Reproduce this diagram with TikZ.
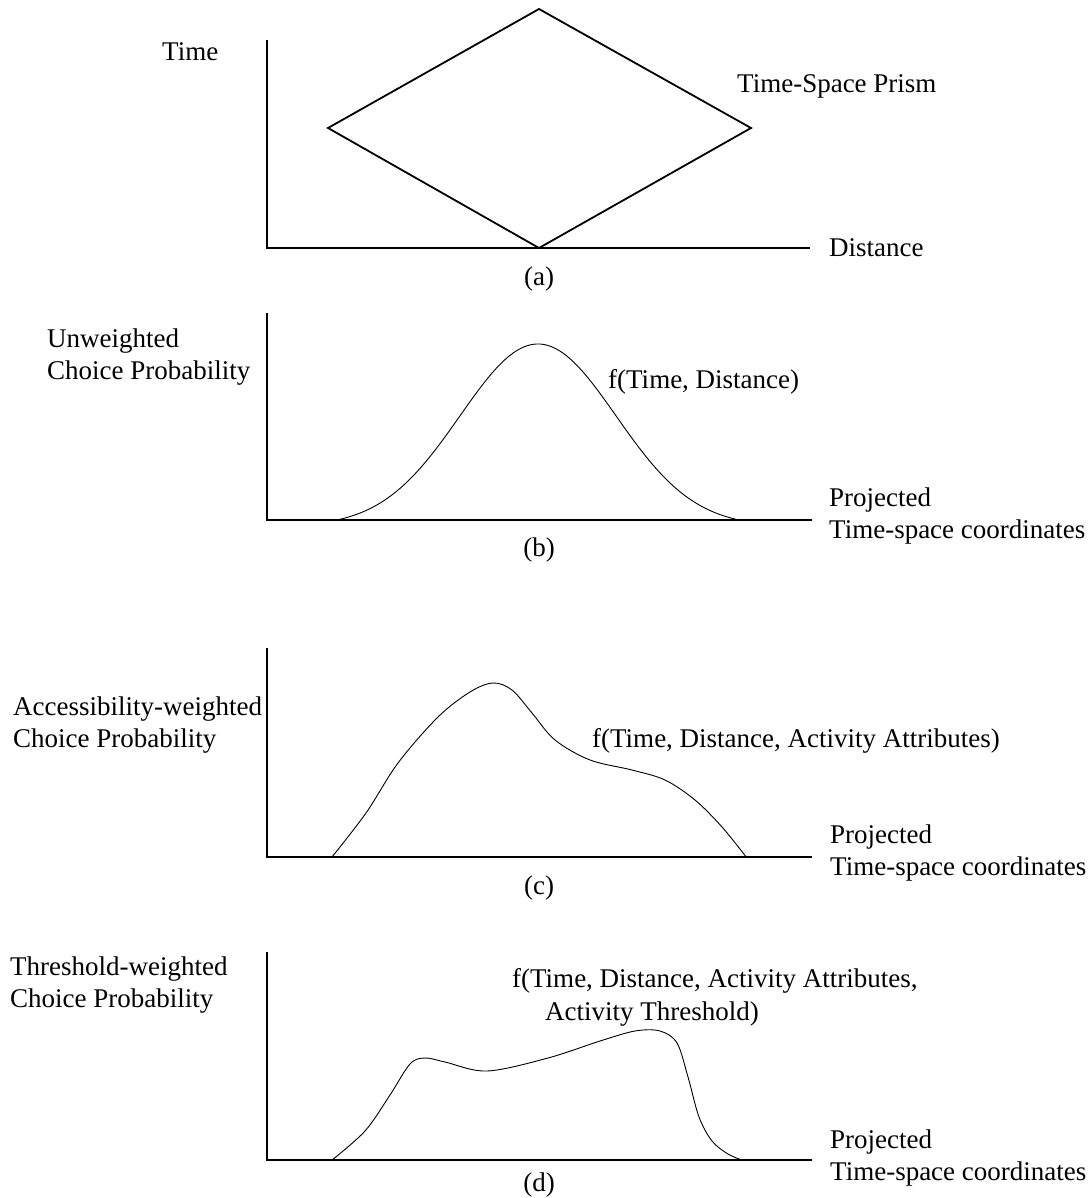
\documentclass[tikz,border=0pt]{standalone}
\usepackage{fontspec}
\setmainfont{Liberation Serif}
\begin{document}
\begin{tikzpicture}[x=1pt,y=-1pt,
  axisline/.style={line width=1.8pt},
  curveline/.style={line width=0.9pt},
  lbl/.style={anchor=base west,inner sep=0pt,font=\fontsize{27}{32}\selectfont},
  captext/.style={anchor=base,inner sep=0pt,font=\fontsize{27}{32}\selectfont}]
\useasboundingbox (0,0) rectangle (1091,1198);

% ---- (a) time-space prism ----
\draw[axisline] (267,40) -- (267,248) -- (810,248);
\draw[axisline,line join=miter] (539,9) -- (751,128) -- (539,248) -- (328,128) -- cycle;
\node[lbl] (ta) at (162,61) {Time};
\node[lbl] (prism) at (737,93) {Time-Space Prism};
\node[lbl] (da) at (829,256) {Distance};
\node[captext] (capa) at (539,285) {(a)};

% ---- (b) unweighted: bell-shaped curve ----
\draw[axisline] (267,313) -- (267,520) -- (812,520);
\draw[curveline] plot[domain=337:740,samples=120,smooth]
  (\x,{520-176*(exp(-0.5*((\x-538)/78)^2)-0.036)/0.964});
\node[lbl] (yb1) at (47,347) {Unweighted};
\node[lbl] (yb2) at (47,379) {Choice Probability};
\node[lbl] (fb) at (608,388) {f(Time, Distance)};
\node[lbl] (xb1) at (829,506) {Projected};
\node[lbl] (xb2) at (829,538) {Time-space coordinates};
\node[captext] (capb) at (539,556) {(b)};

% ---- (c) accessibility-weighted ----
\draw[axisline] (267,648) -- (267,857) -- (812,857);
\draw[curveline] plot[smooth,tension=0.55] coordinates {
  (332,857) (366,813) (398,763) (438,717) (470,692) (493,683) (512,690)
  (532,713) (555,740) (590,760) (632,770) (665,780) (695,800) (722,827)
  (747,858)};
\node[lbl] (yc1) at (13,715) {Accessibility-weighted};
\node[lbl] (yc2) at (13,747) {Choice Probability};
\node[lbl] (fc) at (592,747) {f(Time, Distance, Activity Attributes)};
\node[lbl] (xc1) at (830,843) {Projected};
\node[lbl] (xc2) at (830,875) {Time-space coordinates};
\node[captext] (capc) at (539,894) {(c)};

% ---- (d) threshold-weighted ----
\draw[axisline] (267,952) -- (267,1160) -- (812,1160);
\draw[curveline] plot[smooth,tension=0.55] coordinates {
  (332,1160) (365,1131) (390,1095) (410,1064) (425,1058) (445,1062)
  (487,1071) (548,1058) (600,1041) (635,1031) (660,1031) (677,1043)
  (688,1077) (699,1117) (712,1141) (728,1154) (742,1160)};
\node[lbl] (yd1) at (10,975) {Threshold-weighted};
\node[lbl] (yd2) at (10,1007) {Choice Probability};
\node[lbl] (fd1) at (512,987) {f(Time, Distance, Activity Attributes,};
\node[lbl] (fd2) at (545,1020) {Activity Threshold)};
\node[lbl] (xd1) at (830,1148) {Projected};
\node[lbl] (xd2) at (830,1180) {Time-space coordinates};
\node[captext] (capd) at (539,1191) {(d)};
\end{tikzpicture}
\end{document}
